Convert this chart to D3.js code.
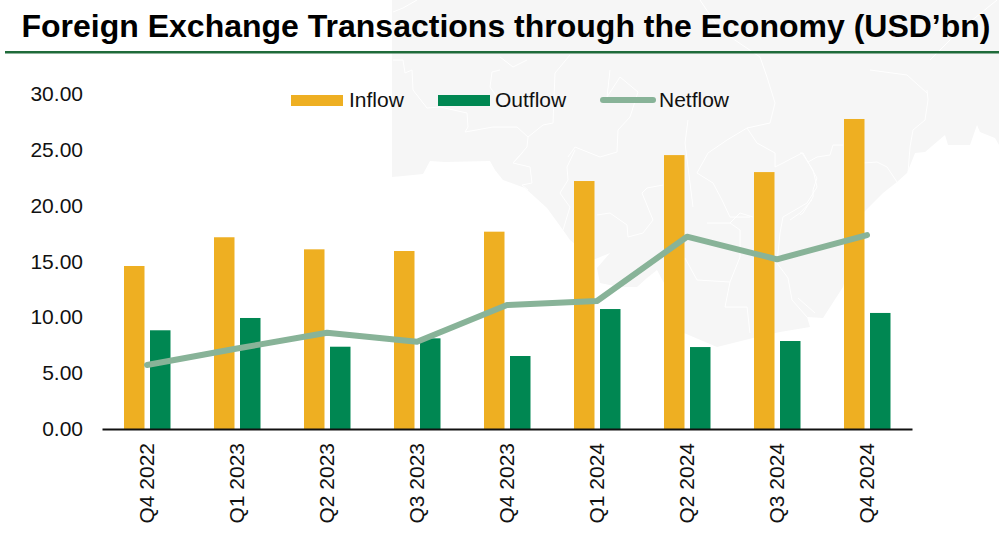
<!DOCTYPE html>
<html>
<head>
<meta charset="utf-8">
<script src="https://cdn.jsdelivr.net/npm/d3@7/dist/d3.min.js"></script>
<style>
html,body{margin:0;padding:0;background:#fff;overflow:hidden}
svg{display:block}
text{font-family:"Liberation Sans",Arial,sans-serif;fill:#111}
</style>
</head>
<body>
<svg id="chart" width="999" height="542"></svg>
<script>
const titleText = "Foreign Exchange Transactions through the Economy (USD\u2019bn)";
const categories = ["Q4 2022","Q1 2023","Q2 2023","Q3 2023","Q4 2023","Q1 2024","Q2 2024","Q3 2024","Q4 2024"];
const inflow  = [14.58,17.15,16.07,15.92,17.65,22.18,24.5,22.98,27.73];
const outflow = [8.83,9.93,7.36,8.11,6.53,10.73,7.33,7.87,10.38];
const netflow = [5.72,7.2,8.61,7.8,11.09,11.45,17.2,15.18,17.35];
const yTicks  = [0,5,10,15,20,25,30];
const legendLabels = ["Inflow","Outflow","Netflow"];

// decorative background map (watermark), picture coordinates
const mapOutline = [[392,0],[392,177],[403,176],[423,174],[430,161],[445,162],[490,161],[495,170],[503,180],[525,188],[547,208],[563,230],[570,240],[585,252],[593,260],[610,253],[597,268],[600,283],[620,287],[637,287],[647,278],[657,270],[664,283],[684,333],[717,347],[753,338],[780,332],[810,327],[807,317],[823,318],[843,287],[863,213],[883,193],[897,182],[907,173],[915,153],[925,152],[945,135],[948,145],[970,145],[977,125],[980,132],[995,138],[999,145],[999,0]];
const mapBorders = [
 [[393,12],[403,8],[417,0]],
 [[393,60],[403,60],[405,73],[412,70],[413,90],[427,108],[440,107],[467,113],[468,127],[465,132],[493,127],[517,127],[528,137],[527,147],[513,163],[523,152]],
 [[500,70],[492,72],[490,87],[497,97]],
 [[500,57],[513,67],[527,60]],
 [[528,137],[543,125],[553,123],[555,73],[570,55]],
 [[513,163],[530,167],[532,183],[522,185],[528,190]],
 [[575,150],[567,167],[568,180],[560,193],[567,203],[570,207],[563,230]],
 [[568,157],[575,147],[600,157],[617,152],[618,130],[630,117],[638,92],[620,77],[607,97],[610,70]],
 [[760,57],[767,77],[775,103],[770,123],[747,128],[727,140],[708,153],[697,173],[713,183],[722,200],[730,217],[750,217]],
 [[597,215],[610,213],[627,225],[628,237],[643,233],[653,220],[642,193],[647,188],[663,185]],
 [[747,128],[757,143],[775,153],[775,167],[783,163],[802,153],[813,170],[817,187],[807,203],[783,217],[780,233],[777,263],[788,278],[792,300],[807,317]],
 [[798,298],[815,313]],
 [[685,258],[697,280],[730,282],[725,307],[747,307],[750,333]],
 [[740,257],[730,282]],
 [[707,223],[730,223],[740,230],[740,257]],
 [[730,223],[740,213],[753,217]],
 [[790,220],[800,213],[812,200]],
 [[843,145],[833,145],[830,155],[817,157],[808,162],[803,153],[800,153]],
 [[808,162],[817,178],[813,190],[813,197],[803,213],[800,215]],
 [[863,163],[877,162],[887,167],[897,182]],
 [[927,90],[928,100],[925,120],[913,130],[910,147],[908,173]],
 [[870,70],[907,75],[927,93]],
 [[997,0],[960,30],[930,60]],
 [[700,0],[720,30],[760,57]],
 [[688,120],[685,143],[693,207]]
];

const colors = {Inflow:"#eeaf22", Outflow:"#008752", Netflow:"#88b398"};
const svg = d3.select("#chart");

// watermark
const lineGen = d3.line();
svg.append("path").attr("d", lineGen(mapOutline)+"Z").attr("fill","#f6f6f6");
svg.append("g").selectAll("path").data(mapBorders).join("path")
  .attr("d", lineGen).attr("fill","none").attr("stroke","#fff").attr("stroke-width",1);

// title
svg.append("text").attr("x",506).attr("y",37).attr("text-anchor","middle")
  .attr("font-size",32).attr("font-weight","bold").style("fill","#000").text(titleText);
svg.append("rect").attr("x",5).attr("y",51).attr("width",994).attr("height",2.5).attr("fill","#1f6b3a");

// scales
const x = d3.scaleBand().domain(categories).range([102,912]);
const y = d3.scaleLinear().domain([0,30]).range([429,93.6]);
const inner = d3.scaleBand().domain(["Inflow","Outflow"]).range([22,68.5]).paddingInner(0.2115);

// bars
const seriesBars = [["Inflow",inflow],["Outflow",outflow]];
seriesBars.forEach(([name,vals])=>{
  svg.append("g").selectAll("rect").data(vals).join("rect")
    .attr("x",(d,i)=>x(categories[i])+inner(name))
    .attr("width",inner.bandwidth())
    .attr("y",d=>y(d))
    .attr("height",d=>y(0)-y(d))
    .attr("fill",colors[name]);
});

// axes
const gy = svg.append("g").attr("transform","translate(83,0)")
  .call(d3.axisLeft(y).tickValues(yTicks).tickFormat(d3.format(".2f")).tickSize(0).tickPadding(0));
gy.select(".domain").remove();
gy.selectAll("text").attr("font-size",21).style("font-family",'"Liberation Sans",Arial,sans-serif').style("fill","#111");

const gx = svg.append("g").attr("transform","translate(0,429)")
  .call(d3.axisBottom(x).tickSize(0));
gx.select(".domain").attr("stroke","#111").attr("stroke-width",2);
gx.selectAll("text")
  .attr("font-size",21).style("font-family",'"Liberation Sans",Arial,sans-serif').style("fill","#111")
  .attr("transform","rotate(-90)")
  .attr("text-anchor","end").attr("x",-14).attr("y",0).attr("dy","0.33em");

// netflow line
const line = d3.line().x((d,i)=>x(categories[i])+x.bandwidth()/2).y(d=>y(d));
svg.append("path").datum(netflow).attr("d",line).attr("fill","none")
  .attr("stroke",colors.Netflow).attr("stroke-width",6).attr("stroke-linecap","round").attr("stroke-linejoin","round");

// legend
const legendPos = [{k:0,x:291,tx:349},{k:1,x:438,tx:495},{k:2,x:600,tx:659}];
const lg = svg.append("g");
legendPos.forEach(p=>{
  const name = legendLabels[p.k];
  if(name==="Netflow"){
    lg.append("line").attr("x1",p.x+3).attr("x2",p.x+53).attr("y1",100).attr("y2",100)
      .attr("stroke",colors[name]).attr("stroke-width",6).attr("stroke-linecap","round");
  } else {
    lg.append("rect").attr("x",p.x).attr("y",95).attr("width",52).attr("height",11).attr("fill",colors[name]);
  }
  lg.append("text").attr("x",p.tx).attr("y",100).attr("dy","0.35em").attr("font-size",21).text(name);
});
</script>
</body>
</html>
